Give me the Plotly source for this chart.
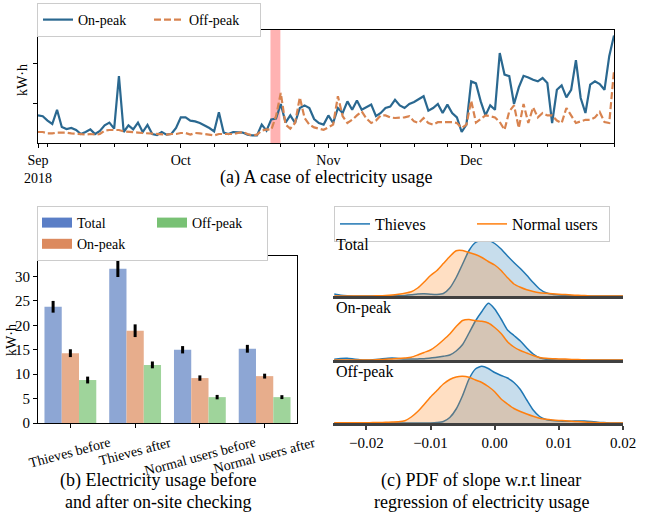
import plotly.graph_objects as go
import pandas as pd

# ---------------- data ----------------
dates = pd.date_range("2018-09-01", "2018-12-31", freq="D")
on_peak = [6.9, 6.7, 5.6, 4.75, 8.3, 4.0, 3.5, 3.75, 3.25, 2.25,
           2.75, 3.4, 2.25, 3.0, 4.4, 5.1, 3.6, 16.7, 2.75, 4.4,
           3.4, 5.1, 2.75, 4.5, 2.25, 2.0, 2.75, 2.1, 2.25, 3.75,
           6.4, 6.4, 5.6, 5.4, 5.0, 4.4, 3.75, 2.9, 7.7, 2.6,
           2.25, 2.75, 2.75, 2.6, 2.1, 1.9, 1.9, 4.6, 3.1, 5.9,
           6.1, 9.75, 5.1, 6.9, 5.0, 8.75, 9.4, 8.75, 6.0, 5.0,
           4.6, 6.9, 5.0, 8.75, 7.5, 10.4, 8.3, 10.6, 8.3, 8.9,
           9.6, 6.7, 7.5, 8.75, 9.1, 10.8, 9.4, 8.75, 9.75, 10.25,
           11.0, 11.7, 8.1, 8.75, 9.75, 7.5, 9.6, 7.5, 6.4, 2.75,
           4.6, 15.4, 14.9, 10.4, 6.9, 9.4, 8.3, 22.5, 17.1, 16.7,
           9.75, 13.9, 16.8, 16.4, 15.8, 15.4, 16.25, 15.0, 5.0, 13.3,
           14.4, 11.4, 13.3, 20.7, 11.25, 7.5, 14.6, 15.4, 14.75, 13.3,
           21.7, 26.9]
off_peak = [2.75, 2.75, 2.4, 2.4, 2.6, 2.6, 2.6, 2.4, 2.25, 2.1,
            2.1, 2.25, 2.1, 2.25, 3.1, 3.25, 3.3, 3.25, 2.9, 2.75,
            2.75, 2.6, 2.5, 2.4, 2.4, 2.25, 2.1, 2.1, 2.25, 2.25,
            2.5, 2.5, 2.1, 2.5, 2.4, 2.25, 2.1, 1.9, 2.25, 2.25,
            2.1, 2.25, 2.5, 2.75, 2.25, 1.9, 2.1, 3.1, 3.4, 3.3,
            6.7, 12.5, 4.6, 3.6, 5.0, 11.4, 6.25, 4.6, 3.9, 3.6,
            3.3, 3.9, 4.6, 11.7, 6.7, 5.0, 5.8, 6.9, 7.9, 6.1,
            5.0, 5.6, 6.9, 6.9, 6.4, 6.25, 6.25, 6.4, 6.7, 5.4,
            5.0, 6.25, 5.0, 4.6, 5.2, 5.2, 5.2, 5.2, 5.0, 3.75,
            4.6, 10.6, 5.1, 6.1, 6.9, 6.7, 6.4, 5.25, 3.3, 7.9,
            9.4, 3.75, 9.75, 5.0, 8.9, 6.4, 7.5, 6.9, 6.9, 5.6,
            5.0, 8.75, 6.7, 5.0, 5.4, 5.8, 5.8, 6.4, 7.75, 5.25,
            5.0, 18.1]
checking_start = "2018-10-19 20:00"
checking_end = "2018-10-21 22:00"
month_ticks = ["2018-09-01", "2018-10-01", "2018-11-01", "2018-12-01"]
month_labels = ["Sep<br>2018", "Oct", "Nov", "Dec"]

groups = ["Thieves before", "Thieves after", "Normal users before", "Normal users after"]
total_bar = [23.8, 31.6, 15.0, 15.2]
total_err = [1.2, 1.7, 0.75, 0.8]
on_bar = [14.3, 18.9, 9.2, 9.6]
on_err = [0.8, 1.3, 0.55, 0.5]
off_bar = [8.8, 11.9, 5.3, 5.3]
off_err = [0.7, 0.7, 0.45, 0.4]

slope = [-0.025, -0.024, -0.023, -0.022, -0.021, -0.020, -0.019, -0.018, -0.017, -0.016,
         -0.015, -0.014, -0.013, -0.012, -0.011, -0.010, -0.009, -0.008, -0.007, -0.006,
         -0.005, -0.004, -0.003, -0.002, -0.001, 0.000, 0.001, 0.002, 0.003, 0.004,
         0.005, 0.006, 0.007, 0.008, 0.009, 0.010, 0.011, 0.012, 0.013, 0.014,
         0.015, 0.016, 0.017, 0.018, 0.019, 0.020]
thieves_total = [2.0, 0.8, 0.2, 0, 0, 0, 0, 0, 0, 0.1,
                 0.3, 0.6, 1.2, 2.0, 2.2, 1.8, 1.6, 2.5, 8, 18.5,
                 32, 45.5, 53.5, 56, 55.7, 52.5, 47, 40, 33.5, 27.5,
                 20.7, 13.5, 7, 3.2, 1.8, 1.1, 0.6, 0.3, 0.1, 0,
                 0, 0, 0, 0, 0, 0]
normal_total = [0, 0, 0, 0, 0, 0, 0.1, 0.2, 0.5, 1.0,
                1.8, 2.8, 4.3, 8, 14, 20.5, 25.5, 32.5, 39.5, 45.3,
                45.5, 43.5, 41.5, 38.5, 34.5, 31, 25.5, 18.3, 12, 8.7,
                6.2, 4.5, 3.3, 2.7, 2.2, 1.8, 1.4, 1.0, 0.7, 0.4,
                0.1, 0, 0, 0, 0, 0]
thieves_on = [0.8, 1.5, 1.7, 1.0, 0.3, 0.1, 0.3, 0.8, 1.5, 2.0,
              1.6, 1.0, 0.9, 1.1, 1.3, 2.0, 2.7, 3.7, 5, 9,
              15.5, 27, 39, 48.5, 56.7, 51, 41, 30, 24.5, 19,
              12, 6, 2.3, 0.8, 0.3, 0, 0, 0, 0, 0,
              0, 0, 0, 0, 0, 0]
normal_on = [0, 0, 0, 0, 0, 0, 0.1, 0.4, 0.8, 1.1,
             1.4, 2.0, 2.8, 5, 7.5, 10, 14.5, 20, 26, 33.5,
             39.5, 40.5, 39.2, 38.7, 37, 32.5, 26.5, 18.3, 13, 9.5,
             7, 4.5, 2.6, 1.7, 1.3, 1.1, 0.9, 0.6, 0.4, 0.2,
             0, 0, 0, 0, 0, 0]
thieves_off = [0, 0, 0, 0, 0, 0, 0, 0, 0, 0,
               0, 0, 0, 0, 0, 0.1, 0.5, 1.5, 5.5, 14,
               27.5, 44, 54, 56.7, 54.5, 50.5, 47.5, 45, 40.5, 33.5,
               23, 13, 6.5, 3.5, 2.5, 2.0, 1.7, 1.8, 2.0, 2.0,
               1.5, 0.8, 0.4, 0.1, 0, 0]
normal_off = [0.2, 0.2, 0.2, 0.2, 0.3, 0.3, 0.4, 0.5, 0.7, 0.9,
              1.2, 2.3, 6, 11.5, 18.5, 26, 32.5, 39, 43.5, 46,
              46.7, 45.7, 43, 40.5, 36.5, 31.3, 24, 19, 14.5, 11.5,
              9, 6.7, 4.8, 3.8, 3.1, 2.6, 2.2, 1.8, 1.4, 1.0,
              0.7, 0.4, 0.2, 0, 0, 0]
slope_ticks = [-0.02, -0.01, 0.0, 0.01, 0.02]
slope_labels = ["\u22120.02", "\u22120.01", "0.00", "0.01", "0.02"]
panel_names = ["Total", "On-peak", "Off-peak"]

# ---------------- layout helpers ----------------
W, H = 660, 516
def fx(p):
    return p / W
def fy(p):
    return 1 - p / H

FONT = "Liberation Serif"
BLUE_LINE = "#2a6890"
ORANGE_DASH = "#d8834f"

fig = go.Figure()

# (a) time series
fig.add_trace(go.Scatter(x=dates, y=on_peak, mode="lines", name="On-peak",
                         line=dict(color=BLUE_LINE, width=2.2), legend="legend",
                         xaxis="x", yaxis="y"))
fig.add_trace(go.Scatter(x=dates, y=off_peak, mode="lines", name="Off-peak",
                         line=dict(color=ORANGE_DASH, width=2.2, dash="7px,3px"),
                         legend="legend", xaxis="x", yaxis="y"))

# (b) bars
bar_specs = [("Total", total_bar, total_err, "#8da6d4", "#5a7ec6", "g1", 1),
             ("On-peak", on_bar, on_err, "#e7ad8c", "#dc8a5e", "g1", 2),
             ("Off-peak", off_bar, off_err, "#9fd49b", "#78c174", "g2", 3)]
for name, vals, err, col, lcol, grp, rank in bar_specs:
    fig.add_trace(go.Bar(x=groups, y=vals, name=name, marker=dict(color=col, line=dict(width=0)),
                         error_y=dict(type="data", array=err, color="black", thickness=3, width=0),
                         showlegend=False, xaxis="x2", yaxis="y2"))
for name, vals, err, col, lcol, grp, rank in bar_specs:
    fig.add_trace(go.Scatter(x=[None], y=[None], mode="lines", name=name,
                             line=dict(color=lcol, width=10), legend="legend2",
                             legendgroup=grp, legendrank=rank, xaxis="x2", yaxis="y2"))

# (c) KDE ridges
kde_sets = [(thieves_total, normal_total), (thieves_on, normal_on), (thieves_off, normal_off)]
for i, (th, nu) in enumerate(kde_sets):
    xa, ya = "x%d" % (i + 3), "y%d" % (i + 3)
    fig.add_trace(go.Scatter(x=slope, y=th, mode="lines", fill="tozeroy",
                             fillcolor="rgba(31,119,180,0.25)",
                             line=dict(color="#1f77b4", width=1.5, shape="spline", smoothing=0.6),
                             showlegend=False, xaxis=xa, yaxis=ya))
    fig.add_trace(go.Scatter(x=slope, y=nu, mode="lines", fill="tozeroy",
                             fillcolor="rgba(255,127,14,0.25)",
                             line=dict(color="#ff7f0e", width=1.5, shape="spline", smoothing=0.6),
                             showlegend=False, xaxis=xa, yaxis=ya))
fig.add_trace(go.Scatter(x=[None], y=[None], mode="lines", name="Thieves",
                         line=dict(color="#1f77b4", width=1.5), legend="legend3",
                         xaxis="x3", yaxis="y3"))
fig.add_trace(go.Scatter(x=[None], y=[None], mode="lines", name="Normal users",
                         line=dict(color="#ff7f0e", width=1.5), legend="legend3",
                         xaxis="x3", yaxis="y3"))

frame = dict(showline=True, linecolor="black", linewidth=1, mirror=True,
             showgrid=False, zeroline=False, automargin=False)

layout = dict(
    width=W, height=H, margin=dict(l=0, r=0, t=0, b=0, autoexpand=False),
    paper_bgcolor="white", plot_bgcolor="white",
    font=dict(family=FONT, size=14, color="black"),
    barmode="group", bargap=0.2, bargroupgap=0,
    xaxis=dict(domain=[fx(38), fx(614)], anchor="y", type="date",
               range=["2018-09-01", "2018-12-31"],
               tickmode="array", tickvals=month_ticks, ticktext=month_labels,
               ticks="outside", ticklen=4, tickcolor="black", tickfont=dict(size=14),
               minor=dict(ticks="outside", ticklen=2.5, tickcolor="black",
                          tickmode="linear", tick0="2018-09-03", dtick=7 * 86400000,
                          showgrid=False),
               **frame),
    yaxis=dict(domain=[fy(143), fy(30)], anchor="x", range=[0, 28.25],
               tickmode="array", tickvals=[10, 20], showticklabels=False,
               ticks="outside", ticklen=4, tickcolor="black", **frame),
    xaxis2=dict(domain=[fx(38), fx(297)], anchor="y2", type="category",
                categoryorder="array", categoryarray=groups, range=[-0.5, 3.5],
                ticks="outside", ticklen=4, tickcolor="black", showticklabels=False, **frame),
    yaxis2=dict(domain=[fy(423), fy(256)], anchor="x2", range=[0, 34.2],
                tickmode="array", tickvals=[0, 5, 10, 15, 20, 25, 30],
                ticks="outside", ticklen=4, tickcolor="black", tickfont=dict(size=15), **frame),
    legend=dict(orientation="h", x=fx(37), y=fy(3), xanchor="left", yanchor="top",
                bgcolor="white", bordercolor="#cccccc", borderwidth=1,
                font=dict(size=14), entrywidth=66, entrywidthmode="pixels"),
    legend2=dict(orientation="h", x=fx(37), y=fy(206), xanchor="left", yanchor="top",
                 bgcolor="white", bordercolor="#cccccc", borderwidth=1,
                 traceorder="grouped", tracegroupgap=0, entrywidth=70, entrywidthmode="pixels",
                 font=dict(size=14)),
    legend3=dict(orientation="h", x=fx(334), y=fy(206), xanchor="left", yanchor="top",
                 bgcolor="white", bordercolor="#cccccc", borderwidth=1,
                 font=dict(size=16), entrywidth=92, entrywidthmode="pixels"),
)

kde_domains = [(296, 236), (360, 300), (423, 363)]
for i, (b, t) in enumerate(kde_domains):
    n = i + 3
    xa = dict(domain=[fx(333), fx(623)], anchor="y%d" % n, range=[-0.0252, 0.02],
              showline=True, linecolor="#404040", linewidth=2.5, showgrid=False,
              zeroline=False, automargin=False)
    if i == 2:
        xa.update(tickmode="array", tickvals=slope_ticks, ticktext=slope_labels,
                  ticks="outside", ticklen=4, tickcolor="#404040", tickwidth=1.5,
                  tickfont=dict(size=15))
    else:
        xa.update(showticklabels=False, ticks="")
    layout["xaxis%d" % n] = xa
    layout["yaxis%d" % n] = dict(domain=[fy(b), fy(t)], anchor="x%d" % n, range=[0, 60],
                                 visible=False, automargin=False)

fig.update_layout(**layout)

# red band for on-site checking
fig.add_shape(type="rect", xref="x", yref="y domain", x0=checking_start, x1=checking_end,
              y0=0, y1=1, fillcolor="rgba(255,0,0,0.3)", line=dict(width=0), layer="below")

ann = []
ann.append(dict(text="kW\u00b7h", xref="paper", yref="paper", x=fx(22), y=fy(80),
                xanchor="center", yanchor="middle",
                textangle=-90, showarrow=False, font=dict(size=14)))
ann.append(dict(text="kW\u00b7h", xref="paper", yref="paper", x=fx(11), y=fy(340),
                xanchor="center", yanchor="middle",
                textangle=-90, showarrow=False, font=dict(size=14)))
for g in groups:
    ann.append(dict(text=g, xref="x2", yref="paper", x=g, y=fy(432), yanchor="top",
                    xanchor="center", textangle=-15, showarrow=False, font=dict(size=14)))
for name, yc in zip(panel_names, [245, 308, 372]):
    ann.append(dict(text=name, xref="paper", yref="paper", x=fx(334), y=fy(yc),
                    xanchor="left", yanchor="middle", showarrow=False, font=dict(size=16)))
caps = [("(a) A case of electricity usage", 326, 178),
        ("(b) Electricity usage before", 158, 480),
        ("and after on-site checking", 158, 502),
        ("(c) PDF of slope w.r.t linear", 481, 480),
        ("regression of electricity usage", 481, 502)]
for t, x, y in caps:
    ann.append(dict(text=t, xref="paper", yref="paper", x=fx(x), y=fy(y),
                    xanchor="center", yanchor="middle", showarrow=False, font=dict(size=18)))
fig.update_layout(annotations=ann)

fig.write_html("out.html", config={"displayModeBar": False},
               post_script="document.body.style.margin='0';document.body.style.overflow='hidden';")
